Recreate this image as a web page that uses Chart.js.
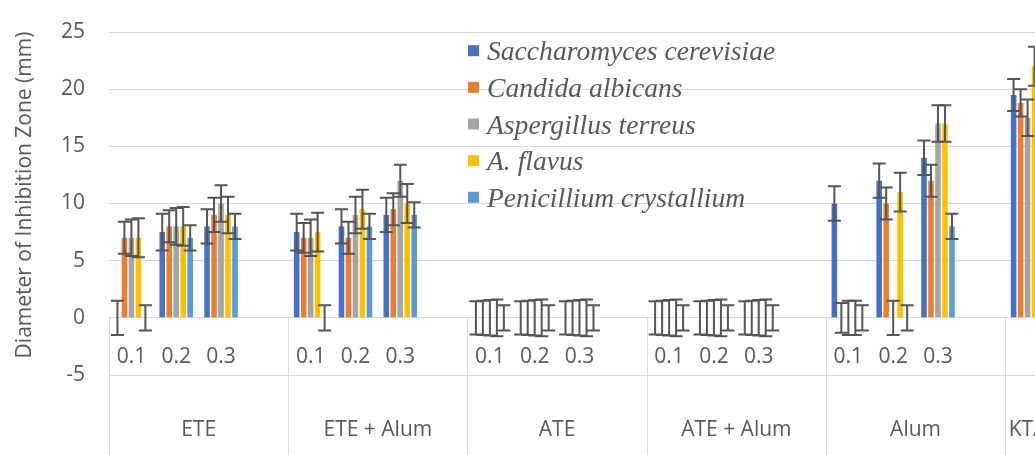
<!DOCTYPE html>
<html><head><meta charset="utf-8">
<script src="https://cdn.jsdelivr.net/npm/chart.js@4.4.0/dist/chart.umd.min.js"></script>
<style>
html,body{margin:0;padding:0;background:#fff;overflow:hidden;}
#wrap{position:relative;width:1060px;height:455px;}
</style></head><body>
<div id="wrap"><canvas id="c" width="1060" height="455"></canvas></div>
<script>
// ---- data ----
const groupNames = ['ETE', 'ETE + Alum', 'ATE', 'ATE + Alum', 'Alum', 'KTA'];
const groupSlots = [4, 4, 4, 4, 4, 1];
const slotLabels = ['0.1','0.2','0.3','', '0.1','0.2','0.3','', '0.1','0.2','0.3','', '0.1','0.2','0.3','', '0.1','0.2','0.3','', ''];
const seriesNames = ['Saccharomyces cerevisiae', 'Candida albicans', 'Aspergillus terreus', 'A. flavus', 'Penicillium crystallium'];
const seriesColors = ['#4472C4', '#ED7D31', '#A5A5A5', '#FFC000', '#5B9BD5'];

const sacchValues = [0, 7.5, 8, null, 7.5, 8, 9, null, 0, 0, 0, null, 0, 0, 0, null, 10, 12, 14, null, 19.5];
const candValues  = [7, 8, 9, null, 7, 7, 9.5, null, 0, 0, 0, null, 0, 0, 0, null, 0, 10, 12, null, 18.8];
const aspValues   = [7, 8, 10, null, 7, 9, 12, null, 0, 0, 0, null, 0, 0, 0, null, 0, 0, 17, null, 17.5];
const flavValues  = [7, 8, 9, null, 7.5, 9.5, 10, null, 0, 0, 0, null, 0, 0, 0, null, 0, 11, 17, null, 22];
const penValues   = [0, 7, 8, null, 0, 8, 9, null, 0, 0, 0, null, 0, 0, 0, null, 0, 0, 8, null, 11.6];

const sacchErr = [1.5, 1.6, 1.5, null, 1.6, 1.5, 1.5, null, 1.45, 1.45, 1.45, null, 1.45, 1.45, 1.45, null, 1.5, 1.5, 1.5, null, 1.4];
const candErr  = [1.4, 1.4, 1.5, null, 1.3, 1.4, 1.4, null, 1.5, 1.5, 1.5, null, 1.5, 1.5, 1.5, null, 1.3, 1.4, 1.4, null, 1.2];
const aspErr   = [1.6, 1.6, 1.6, null, 1.6, 1.6, 1.4, null, 1.55, 1.55, 1.55, null, 1.55, 1.55, 1.55, null, 1.5, 1.5, 1.6, null, 1.6];
const flavErr  = [1.7, 1.7, 1.6, null, 1.7, 1.7, 1.7, null, 1.6, 1.6, 1.6, null, 1.6, 1.6, 1.6, null, 1.5, 1.7, 1.6, null, 1.7];
const penErr   = [1.1, 1.1, 1.1, null, 1.1, 1.1, 1.1, null, 1.1, 1.1, 1.1, null, 1.1, 1.1, 1.1, null, 1.1, 1.1, 1.1, null, 1.1];

const yTitle = 'Diameter of Inhibition Zone (mm)';
const yMin = -5, yMax = 25, yStep = 5;

const allValues = [sacchValues, candValues, aspValues, flavValues, penValues];
const allErrors = [sacchErr, candErr, aspErr, flavErr, penErr];

const FONT = 'Open Sans';
const TEXT = '#595959';
const GRID = '#d9d9d9';

const errorBars = {
  id: 'errorBars',
  afterDatasetsDraw(chart) {
    const ctx = chart.ctx, ys = chart.scales.y;
    ctx.save();
    ctx.strokeStyle = '#555555';
    ctx.lineWidth = 2;
    chart.data.datasets.forEach((ds, di) => {
      const meta = chart.getDatasetMeta(di);
      meta.data.forEach((bar, i) => {
        const v = ds.data[i], e = allErrors[di][i];
        if (v == null || e == null) return;
        const x = bar.x;
        const y1 = ys.getPixelForValue(v + e), y2 = ys.getPixelForValue(v - e);
        const cap = 6.5;
        ctx.beginPath();
        ctx.moveTo(x, y1); ctx.lineTo(x, y2);
        ctx.moveTo(x - cap, y1); ctx.lineTo(x + cap, y1);
        ctx.moveTo(x - cap, y2); ctx.lineTo(x + cap, y2);
        ctx.stroke();
      });
    });
    ctx.restore();
  }
};

const categoryAxis = {
  id: 'categoryAxis',
  afterDraw(chart) {
    const ctx = chart.ctx, xs = chart.scales.x, ys = chart.scales.y;
    const slotW = xs.getPixelForValue(1) - xs.getPixelForValue(0);
    const y0 = ys.getPixelForValue(0);
    const H = chart.height;
    ctx.save();
    // separators
    ctx.strokeStyle = GRID; ctx.lineWidth = 1;
    let idx = 0;
    const bounds = [0];
    groupSlots.forEach(n => { idx += n; bounds.push(idx); });
    bounds.forEach(b => {
      const x = Math.round(xs.getPixelForValue(b) - slotW / 2) + 0.5;
      ctx.beginPath(); ctx.moveTo(x, y0); ctx.lineTo(x, H); ctx.stroke();
    });
    // sub labels
    ctx.fillStyle = TEXT;
    ctx.font = `21px "${FONT}"`;
    ctx.textAlign = 'center'; ctx.textBaseline = 'middle';
    slotLabels.forEach((l, i) => { if (l) ctx.fillText(l, xs.getPixelForValue(i), 357); });
    // group labels
    groupNames.forEach((g, gi) => {
      const cx = (xs.getPixelForValue(bounds[gi]) + xs.getPixelForValue(bounds[gi + 1])) / 2 - slotW / 2;
      ctx.fillText(g, cx, 430);
    });
    // y axis title
    ctx.save();
    ctx.translate(25, 195);
    ctx.rotate(-Math.PI / 2);
    ctx.fillText(yTitle, 0, 0);
    ctx.restore();
    // legend
    ctx.textAlign = 'left'; ctx.textBaseline = 'alphabetic';
    ctx.font = `italic 27.6px "Liberation Serif"`;
    const rowY = [50.7, 87.3, 124, 160.7, 197.3];
    chart.data.datasets.forEach((ds, di) => {
      const cy = rowY[di];
      ctx.fillStyle = ds.backgroundColor;
      ctx.fillRect(468, cy - 5.5, 11, 11);
      ctx.fillStyle = TEXT;
      ctx.fillText(ds.label, 487, cy + 9.5);
    });
    ctx.restore();
  }
};

new Chart(document.getElementById('c'), {
  type: 'bar',
  data: {
    labels: slotLabels,
    datasets: seriesNames.map((n, i) => ({
      label: n,
      data: allValues[i],
      backgroundColor: seriesColors[i],
      borderWidth: 0,
      categoryPercentage: 0.78,
      barPercentage: 0.8
    }))
  },
  options: {
    responsive: false,
    animation: false,
    devicePixelRatio: 1,
    layout: { autoPadding: false, padding: { top: 32, bottom: 80, left: 0, right: 10 } },
    plugins: { legend: { display: false }, tooltip: { enabled: false } },
    scales: {
      x: { display: false, offset: true, grid: { display: false } },
      y: {
        min: yMin, max: yMax,
        ticks: { stepSize: yStep, color: TEXT, font: { family: FONT, size: 21 }, padding: 24 },
        grid: { color: GRID, drawTicks: false, lineWidth: 1 },
        border: { display: false },
        title: { display: false },
        afterFit(s) { s.width = 109; s.paddingTop = 0; s.paddingBottom = 0; }
      }
    }
  },
  plugins: [errorBars, categoryAxis]
});
</script>
</body></html>
